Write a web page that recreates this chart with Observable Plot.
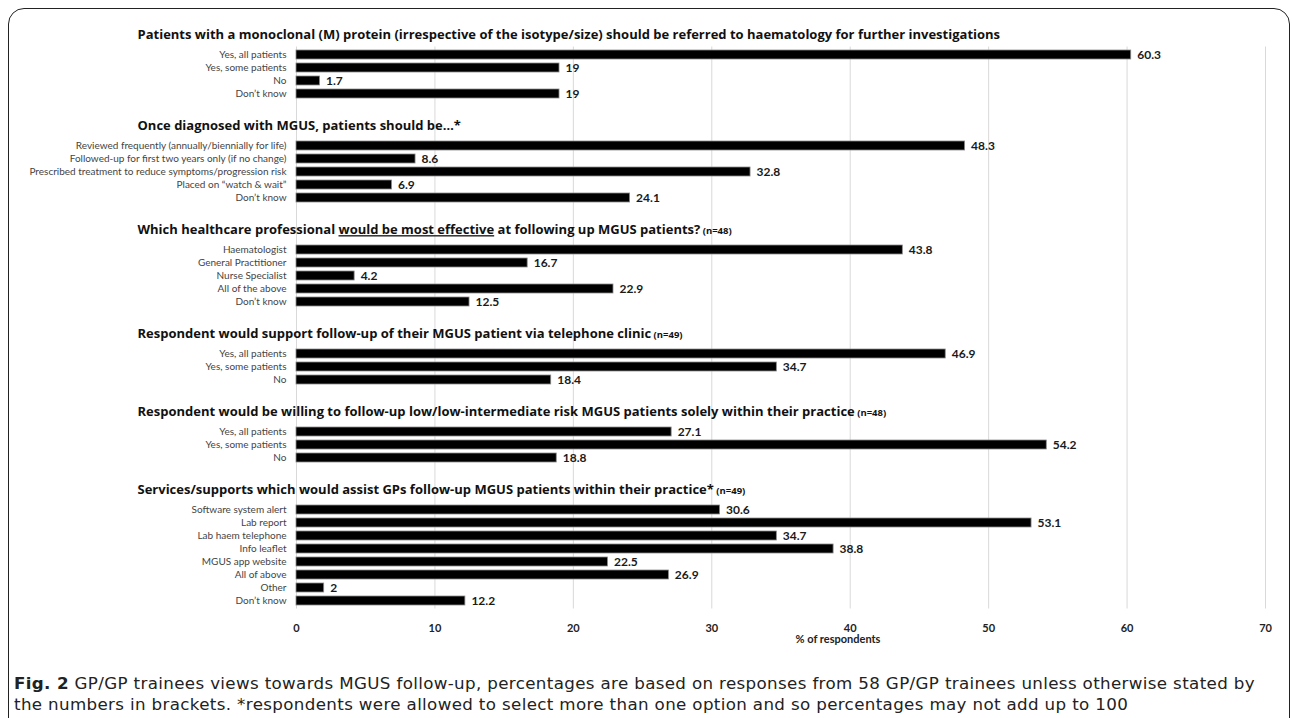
<!DOCTYPE html>
<html>
<head>
<meta charset="utf-8">
<script src="https://cdn.jsdelivr.net/npm/d3@7"></script>
<script src="https://cdn.jsdelivr.net/npm/@observablehq/plot@0.6"></script>
<style>
  body { margin: 0; background: #fff; }
  #wrap { position: relative; width: 1292px; height: 718px; overflow: hidden; }
  #frame { position: absolute; left: 8px; top: 8px; width: 1282px; height: 740px;
           border: 1.5px solid #222; border-radius: 16px; box-sizing: border-box; }
  #chart { position: absolute; left: 0; top: 0; }
  #caption { position: absolute; left: 14px; top: 673px; font-family: "DejaVu Sans", sans-serif;
             font-size: 16.7px; letter-spacing: 0.35px; line-height: 21px; color: #222; white-space: nowrap; }
  #caption b { font-weight: 700; }
</style>
</head>
<body>
<div id="wrap">
  <div id="frame"></div>
  <div id="chart"></div>
  <div id="caption"><b>Fig. 2</b> GP/GP trainees views towards MGUS follow-up, percentages are based on responses from 58 GP/GP trainees unless otherwise stated by<br>the numbers in brackets. *respondents were allowed to select more than one option and so percentages may not add up to 100</div>
</div>
<script>
// ---- data ----
const titles = [
  "Patients with a monoclonal (M) protein (irrespective of the isotype/size) should be referred to haematology for further investigations",
  "Once diagnosed with MGUS, patients should be…*",
  "Which healthcare professional would be most effective at following up MGUS patients?",
  "Respondent would support follow-up of their MGUS patient via telephone clinic",
  "Respondent would be willing to follow-up low/low-intermediate risk MGUS patients solely within their practice",
  "Services/supports which would assist GPs follow-up MGUS patients within their practice*"
];
const nLabels = ["", "", "(n=48)", "(n=49)", "(n=48)", "(n=49)"];
const underlined = ["", "", "would be most effective", "", "", ""];

const cats1 = ["Yes, all patients", "Yes, some patients", "No", "Don’t know"];
const vals1 = [60.3, 19, 1.7, 19];
const cats2 = ["Reviewed frequently (annually/biennially for life)", "Followed-up for first two years only (if no change)", "Prescribed treatment to reduce symptoms/progression risk", "Placed on “watch & wait”", "Don’t know"];
const vals2 = [48.3, 8.6, 32.8, 6.9, 24.1];
const cats3 = ["Haematologist", "General Practitioner", "Nurse Specialist", "All of the above", "Don’t know"];
const vals3 = [43.8, 16.7, 4.2, 22.9, 12.5];
const cats4 = ["Yes, all patients", "Yes, some patients", "No"];
const vals4 = [46.9, 34.7, 18.4];
const cats5 = ["Yes, all patients", "Yes, some patients", "No"];
const vals5 = [27.1, 54.2, 18.8];
const cats6 = ["Software system alert", "Lab report", "Lab haem telephone", "Info leaflet", "MGUS app website", "All of above", "Other", "Don’t know"];
const vals6 = [30.6, 53.1, 34.7, 38.8, 22.5, 26.9, 2, 12.2];

const xTicks = [0, 10, 20, 30, 40, 50, 60, 70];
const xLabel = "% of respondents";

// ---- build rows ----
const groups = [[cats1, vals1], [cats2, vals2], [cats3, vals3], [cats4, vals4], [cats5, vals5], [cats6, vals6]];
const rows = [];
groups.forEach(([cats, vals], gi) => {
  if (gi > 0) for (let k = 0; k < 3; k++) rows.push({key: `gap${gi}-${k}`});
  cats.forEach((c, i) => rows.push({key: `${gi}-${i}`, label: c, value: vals[i], group: gi, first: i === 0}));
});
const domain = rows.map(r => r.key);
const bars = rows.filter(r => r.value != null);
const firsts = bars.filter(r => r.first);
const titleText = g => titles[g] + (nLabels[g] ? " " + nLabels[g] : "");

const W = 1292, H = 660;
const chart = Plot.plot({
  width: W, height: H,
  marginLeft: 296, marginRight: 27, marginTop: 46.5, marginBottom: H - 608.5,
  style: {fontFamily: "Lato, sans-serif", background: "transparent", overflow: "visible"},
  x: {domain: [0, 70], axis: null},
  y: {domain, type: "band", padding: 0, axis: null},
  marks: [
    Plot.gridX(xTicks, {stroke: "#d9d9d9", strokeOpacity: 1, strokeWidth: 1}),
    Plot.barX(bars, {x: "value", y: "key", fill: "#000", stroke: "#8a8a8a", strokeWidth: 0.8, insetTop: 2, insetBottom: 2}),
    Plot.text(bars, {x: "value", y: "key", text: d => String(d.value), textAnchor: "start", dx: 6,
      fontWeight: "bold", fontSize: 12, fill: "#1a1a1a"}),
    Plot.text(bars, {y: "key", text: "label", frameAnchor: "left", textAnchor: "end", dx: -10,
      fontSize: 10, fill: "#444"}),
    Plot.text(firsts, {y: "key", text: d => titleText(d.group), frameAnchor: "left", textAnchor: "start",
      dx: -159, dy: -20, fontWeight: "bold", fontSize: 13, fontFamily: "Open Sans, sans-serif", fill: "#111"}),
    Plot.axisX(xTicks, {tickSize: 0, tickPadding: 15.5, fontWeight: "bold", fontSize: 11, fill: "#222", label: null}),
    Plot.text([xLabel], {frameAnchor: "bottom", dx: 57, dy: 34, fontWeight: "bold", fontSize: 11, fill: "#222"})
  ]
});
document.getElementById("chart").appendChild(chart);

// rich formatting of titles: underline + smaller (n=..) part
chart.querySelectorAll("text").forEach(t => {
  const g = titles.findIndex((_, i) => t.textContent === titleText(i));
  if (g < 0) return;
  t.textContent = "";
  const ns = "http://www.w3.org/2000/svg";
  const add = (s, attrs) => {
    const ts = document.createElementNS(ns, "tspan");
    ts.textContent = s;
    for (const k in attrs) ts.setAttribute(k, attrs[k]);
    t.appendChild(ts);
  };
  const main = titles[g], u = underlined[g];
  if (u) {
    const i = main.indexOf(u);
    add(main.slice(0, i), {});
    add(u, {"text-decoration": "underline"});
    add(main.slice(i + u.length), {});
  } else add(main, {});
  if (nLabels[g]) add(" " + nLabels[g], {"font-size": "9.5px"});
});
</script>
</body>
</html>
